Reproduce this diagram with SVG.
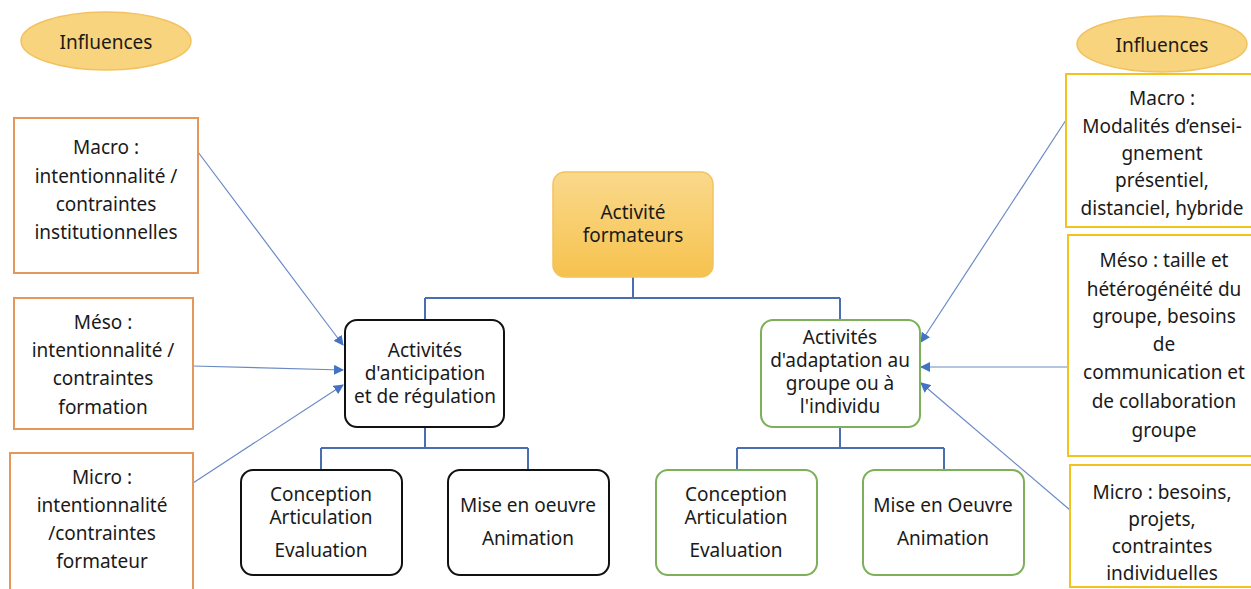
<svg xmlns="http://www.w3.org/2000/svg" width="1251" height="589" viewBox="0 0 1251 589">
<style>
text{font-family:"Noto Sans","Open Sans",sans-serif;font-size:19px;fill:#1a1a1a;text-anchor:middle;dominant-baseline:central}
.ell{fill:#F8D47E;stroke:#F2C260;stroke-width:1.5}
.org{fill:#fff;stroke:#E5975A;stroke-width:2}
.yel{fill:#fff;stroke:#F2C31C;stroke-width:2}
.blk{fill:#fff;stroke:#111;stroke-width:2}
.grn{fill:#fff;stroke:#7DB05A;stroke-width:2}
.tree{fill:none;stroke:#4A6EAE;stroke-width:2}
.arr{fill:none;stroke:#6A8AC4;stroke-width:1.2;marker-end:url(#ah)}
</style>
<defs>
<linearGradient id="gold" x1="0" y1="0" x2="0" y2="1">
<stop offset="0" stop-color="#FAD98C"/><stop offset="1" stop-color="#F6C24E"/>
</linearGradient>
<marker id="ah" viewBox="0 0 10 10" refX="9" refY="5" markerWidth="10" markerHeight="10" markerUnits="userSpaceOnUse" orient="auto">
<path d="M0,0 L10,5 L0,10 z" fill="#4472C4"/>
</marker>
</defs>

<g id="connectors">
<path class="tree" d="M633,277 V298 M425,298 H840 M425,298 V320 M840,298 V320"/>
<path class="tree" d="M425,427 V448 M321,448 H528 M321,448 V470 M528,448 V470"/>
<path class="tree" d="M840,427 V448 M737,448 H944 M737,448 V470 M944,448 V470"/>
<line class="arr" x1="198" y1="152" x2="343" y2="345"/>
<line class="arr" x1="193" y1="366" x2="343" y2="370"/>
<line class="arr" x1="193" y1="483" x2="343" y2="385"/>
<line class="arr" x1="1066" y1="120" x2="921" y2="342"/>
<line class="arr" x1="1068" y1="367" x2="921" y2="367"/>
<line class="arr" x1="1070" y1="510" x2="921" y2="383"/>
</g>

<g id="influences-left">
<ellipse class="ell" cx="106" cy="41" rx="85" ry="29"/>
<text x="106" y="42">Influences</text>
</g>
<g id="influences-right">
<ellipse class="ell" cx="1162" cy="44" rx="85" ry="28"/>
<text x="1162" y="45">Influences</text>
</g>

<g id="macro-left">
<rect class="org" x="14" y="118" width="184" height="155"/>
<text x="106" y="147">Macro :</text>
<text x="106" y="176">intentionnalité /</text>
<text x="106" y="204">contraintes</text>
<text x="106" y="232">institutionnelles</text>
</g>
<g id="meso-left">
<rect class="org" x="14" y="298" width="179" height="131"/>
<text x="103" y="322">Méso :</text>
<text x="103" y="350">intentionnalité /</text>
<text x="103" y="378">contraintes</text>
<text x="103" y="407">formation</text>
</g>
<g id="micro-left">
<rect class="org" x="10" y="453" width="183" height="145"/>
<text x="102" y="477">Micro :</text>
<text x="102" y="505">intentionnalité</text>
<text x="102" y="533">/contraintes</text>
<text x="102" y="561">formateur</text>
</g>

<g id="macro-right">
<rect class="yel" x="1066" y="74" width="186" height="153"/>
<text x="1162" y="98">Macro :</text>
<text x="1162" y="126">Modalités d’ensei-</text>
<text x="1162" y="153">gnement</text>
<text x="1162" y="180">présentiel,</text>
<text x="1162" y="208">distanciel, hybride</text>
</g>
<g id="meso-right">
<rect class="yel" x="1068" y="235" width="184" height="221"/>
<text x="1164" y="260">Méso : taille et</text>
<text x="1164" y="289">hétérogénéité du</text>
<text x="1164" y="316">groupe, besoins</text>
<text x="1164" y="344">de</text>
<text x="1164" y="372">communication et</text>
<text x="1164" y="401">de collaboration</text>
<text x="1164" y="430">groupe</text>
</g>
<g id="micro-right">
<rect class="yel" x="1070" y="465" width="182" height="122"/>
<text x="1162" y="492">Micro : besoins,</text>
<text x="1162" y="519">projets,</text>
<text x="1162" y="546">contraintes</text>
<text x="1162" y="573">individuelles</text>
</g>

<g id="activite-formateurs">
<rect x="553" y="172" width="160" height="105" rx="12" fill="url(#gold)" stroke="#F3C25E" stroke-width="1.5"/>
<text x="633" y="212">Activité</text>
<text x="633" y="235">formateurs</text>
</g>

<g id="anticipation">
<rect class="blk" x="345" y="320" width="159" height="107" rx="12"/>
<text x="425" y="350">Activités</text>
<text x="425" y="373">d'anticipation</text>
<text x="425" y="396">et de régulation</text>
</g>
<g id="adaptation">
<rect class="grn" x="761" y="320" width="159" height="107" rx="12"/>
<text x="840" y="337">Activités</text>
<text x="840" y="360">d'adaptation au</text>
<text x="840" y="383">groupe ou à</text>
<text x="840" y="406">l'individu</text>
</g>

<g id="conception-left">
<rect class="blk" x="241" y="470" width="161" height="105" rx="12"/>
<text x="321" y="494">Conception</text>
<text x="321" y="517">Articulation</text>
<text x="321" y="550">Evaluation</text>
</g>
<g id="mise-left">
<rect class="blk" x="448" y="470" width="161" height="105" rx="12"/>
<text x="528" y="505">Mise en oeuvre</text>
<text x="528" y="538">Animation</text>
</g>
<g id="conception-right">
<rect class="grn" x="656" y="470" width="161" height="105" rx="12"/>
<text x="736" y="494">Conception</text>
<text x="736" y="517">Articulation</text>
<text x="736" y="550">Evaluation</text>
</g>
<g id="mise-right">
<rect class="grn" x="863" y="470" width="161" height="105" rx="12"/>
<text x="943" y="505">Mise en Oeuvre</text>
<text x="943" y="538">Animation</text>
</g>
</svg>
